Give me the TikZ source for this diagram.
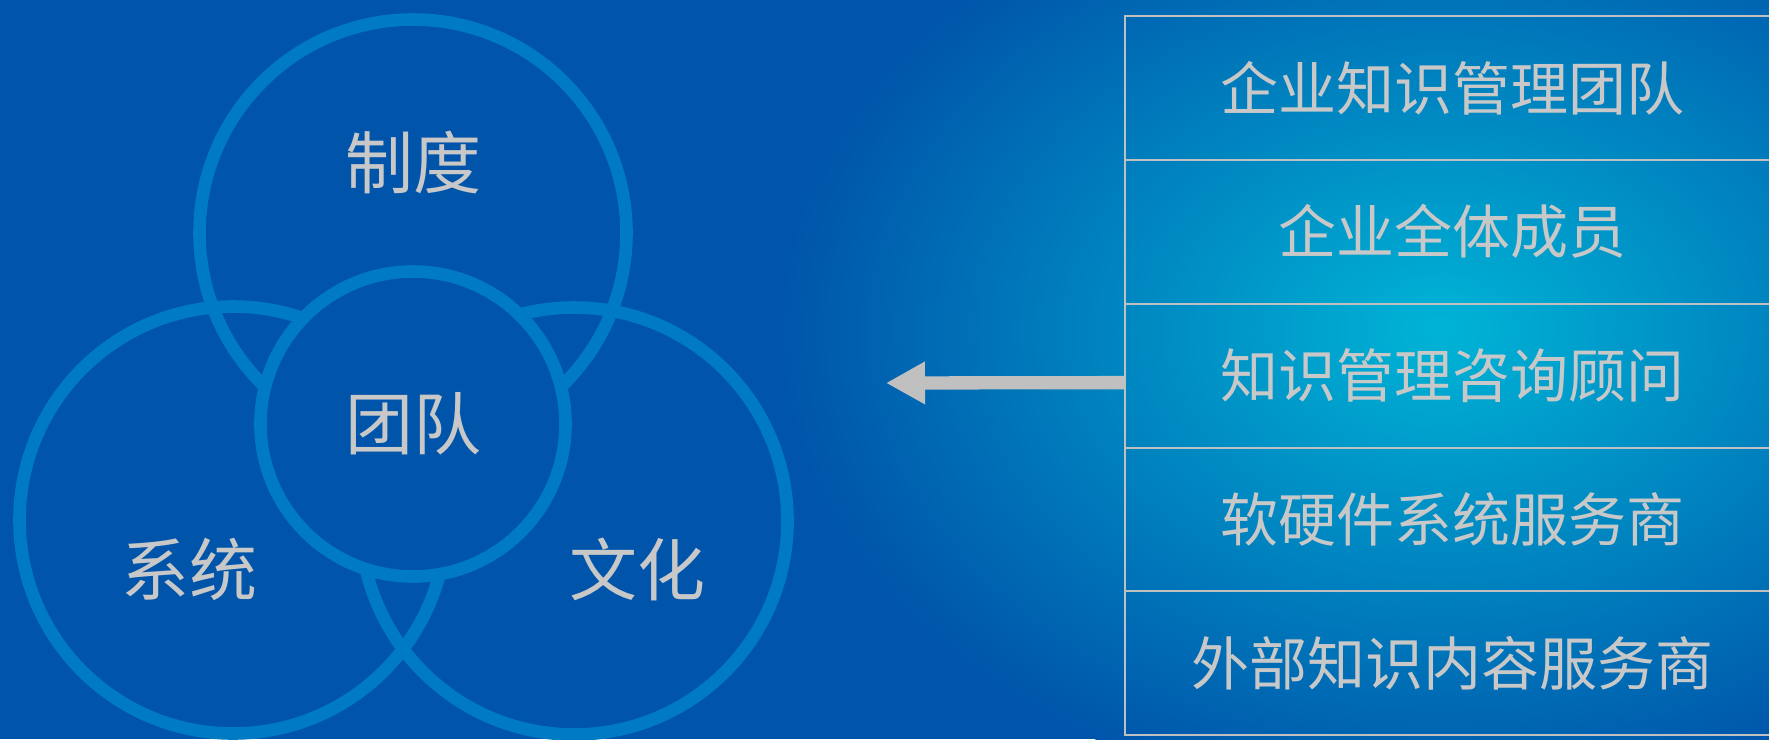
\documentclass[tikz,border=0pt]{standalone}
\usepackage{fontspec}
\newfontfamily\cjk{Noto Sans CJK SC}
\usetikzlibrary{positioning,arrows.meta}
\definecolor{bgblue}{RGB}{0,85,170}
\definecolor{glowcyan}{RGB}{0,180,214}
\definecolor{ringblue}{RGB}{0,122,195}
\definecolor{linegray}{RGB}{192,192,192}
\definecolor{textgray}{RGB}{200,200,200}

\begin{document}
\begin{tikzpicture}[x=1pt,y=-1pt,font=\cjk]
    \tikzstyle{ring}=[circle, draw=ringblue, line width=12.6pt, inner sep=0pt, minimum size=427pt]
    \tikzstyle{word}=[text=textgray, font=\cjk\fontsize{68}{70}\selectfont, inner sep=0pt]
    \tikzstyle{role}=[draw=linegray, line width=2pt, text=textgray, font=\cjk\fontsize{58}{60}\selectfont, minimum width=655pt, minimum height=143.8pt, node distance=143.8pt, on grid]

    \useasboundingbox (0,0) rectangle (1769,739);
    \fill[bgblue] (0,0) rectangle (1769,739);
    \begin{scope}
        \clip (0,0) rectangle (1769,739);
        \shade[inner color=glowcyan, outer color=bgblue] (1440,330) ellipse [x radius=660pt, y radius=480pt];
    \end{scope}

    % three outer rings round the team
    \node[ring] (rules) at (413,233) {};
    \node[ring] (system) at (233,520) {};
    \node[ring] (culture) at (574,521) {};
    \node[ring,word,fill=bgblue,minimum size=305pt] (team) at (413,424) {团队};

    \node[word] (rulestext) at (413,162) {制度};
    \node[word] (systemtext) at (189,569) {系统};
    \node[word] (culturetext) at (637,569) {文化};

    % participants
    \node[role] (kmteam) at (1452.5,88) {企业知识管理团队};
    \node[role,below of=kmteam] (staff) {企业全体成员};
    \node[role,below of=staff] (consult) {知识管理咨询顾问};
    \node[role,below of=consult] (vendor) {软硬件系统服务商};
    \node[role,below of=vendor] (content) {外部知识内容服务商};

    \coordinate (tip) at (886,383);
    \draw[line width=13.3pt,linegray,-{Triangle[length=39pt,width=40pt]}] ([yshift=-7pt]consult.west) -- (tip);
\end{tikzpicture}
\end{document}
